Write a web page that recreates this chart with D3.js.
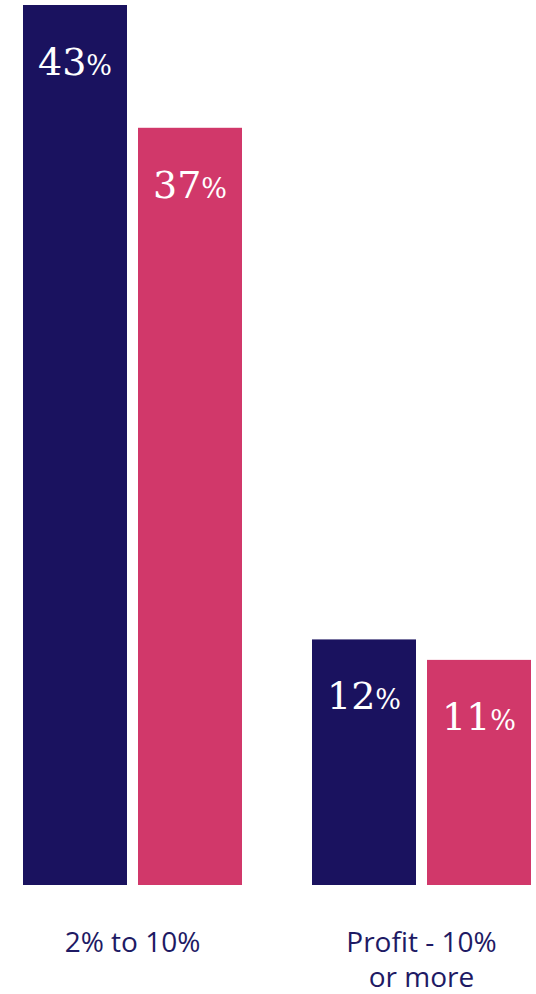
<!DOCTYPE html>
<html>
<head>
<meta charset="utf-8">
<script src="https://cdn.jsdelivr.net/npm/d3@7"></script>
<style>
  html, body { margin: 0; padding: 0; background: #ffffff; overflow: hidden; }
  svg { display: block; }
</style>
</head>
<body>
<div id="chart"></div>
<script>
const categories = [["2% to 10%"], ["Profit - 10%", "or more"]];
const seriesNames = ["A", "B"];
const seriesA = [43, 12];
const seriesB = [37, 11];
const colors = ["#1a125f", "#d1386a"];

const W = 536, H = 994;
const svg = d3.select("#chart").append("svg").attr("width", W).attr("height", H);

const catKeys = categories.map((c, i) => i);
const x0 = d3.scaleBand().domain(catKeys).range([23, 531]).paddingInner(70 / 289).paddingOuter(0);
const x1 = d3.scaleBand().domain(seriesNames).range([0, x0.bandwidth()]).paddingInner(11 / 115).paddingOuter(0);
const y = d3.scaleLinear().domain([0, 43]).range([885, 5]);

const data = catKeys.map(i => ({
  cat: i,
  values: [{ s: "A", v: seriesA[i], c: colors[0] }, { s: "B", v: seriesB[i], c: colors[1] }]
}));

const g = svg.selectAll("g.grp").data(data).join("g")
  .attr("class", "grp")
  .attr("transform", d => `translate(${x0(d.cat)},0)`);

g.selectAll("rect").data(d => d.values).join("rect")
  .attr("x", d => x1(d.s))
  .attr("y", d => y(d.v))
  .attr("width", x1.bandwidth())
  .attr("height", d => y(0) - y(d.v))
  .attr("fill", d => d.c);

const lbl = g.selectAll("text.val").data(d => d.values).join("text")
  .attr("class", "val")
  .attr("x", d => x1(d.s) + x1.bandwidth() / 2)
  .attr("y", d => y(d.v) + 70)
  .attr("text-anchor", "middle")
  .attr("fill", "#ffffff")
  .attr("font-family", "'DejaVu Serif', serif");
lbl.append("tspan").attr("font-size", 38).text(d => d.v);
lbl.append("tspan").attr("font-size", 27).text("%");

// category labels
const cl = svg.selectAll("text.cat").data(categories).join("text")
  .attr("class", "cat")
  .attr("text-anchor", "middle")
  .attr("fill", "#1e1a64")
  .attr("font-family", "'Open Sans', sans-serif")
  .attr("font-size", 28)
  .attr("x", (d, i) => x0(i) + x0.bandwidth() / 2)
  .attr("y", 952);
cl.selectAll("tspan").data(d => d).join("tspan")
  .attr("x", function () { return d3.select(this.parentNode).attr("x"); })
  .attr("dy", (d, j) => j === 0 ? 0 : 35)
  .text(d => d);
</script>
</body>
</html>
